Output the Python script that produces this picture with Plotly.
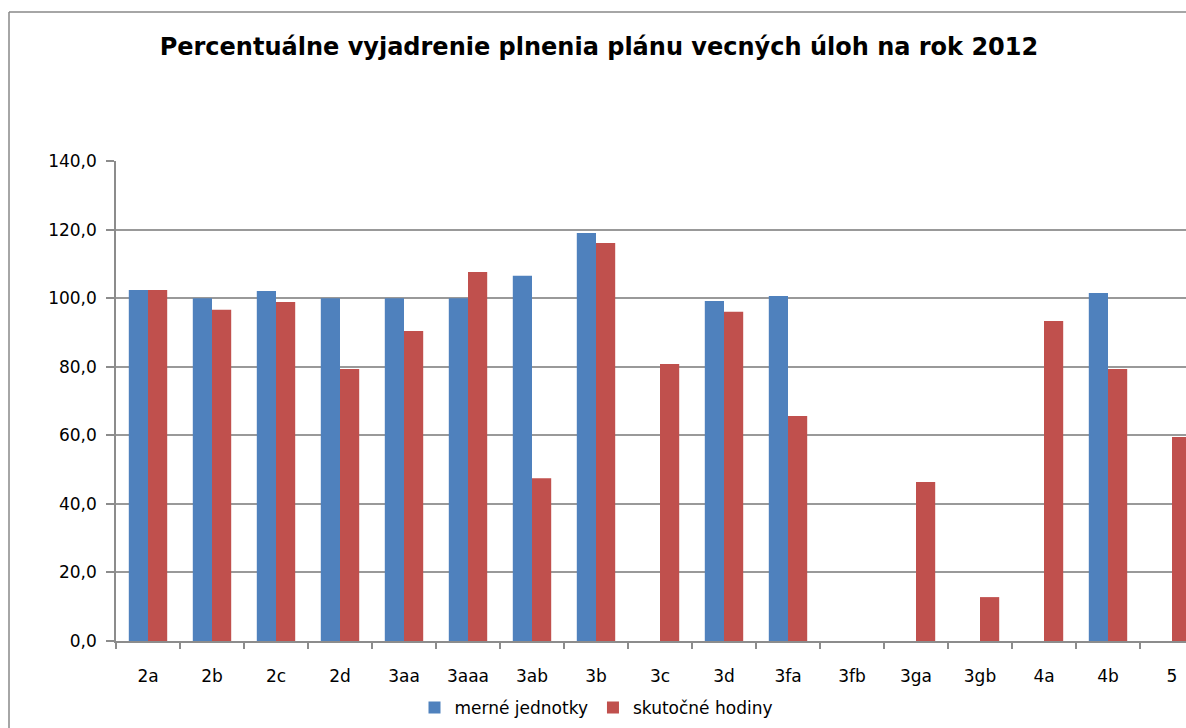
import plotly.graph_objects as go

categories = ["2a", "2b", "2c", "2d", "3aa", "3aaa", "3ab", "3b", "3c", "3d",
              "3fa", "3fb", "3ga", "3gb", "4a", "4b", "5"]
merne_jednotky = [102.4, 100.0, 102.1, 100.0, 100.0, 100.0, 106.5, 119.0, None, 99.2,
                  100.6, None, None, None, None, 101.5, None]
skutocne_hodiny = [102.4, 96.6, 98.9, 79.3, 90.4, 107.6, 47.5, 116.1, 80.8, 96.0,
                   65.6, None, 46.4, 12.8, 93.3, 79.3, 59.5]
y_ticks = [0, 20, 40, 60, 80, 100, 120, 140]
y_tick_labels = ["0,0", "20,0", "40,0", "60,0", "80,0", "100,0", "120,0", "140,0"]

W, H = 1186, 728
L, R, T, B = 116, 0, 161, 87

fig = go.Figure()
fig.add_trace(go.Bar(x=categories, y=merne_jednotky, name="merné jednotky",
                     marker=dict(color="#4F81BD", line=dict(width=0))))
fig.add_trace(go.Bar(x=categories, y=skutocne_hodiny, name="skutočné hodiny",
                     marker=dict(color="#C0504D", line=dict(width=0))))

pw = W - L - R
ph = H - T - B
cat_px = 64.0
right_extra = (L + 17 * cat_px) - W  # chart is cropped at right

fig.update_layout(
    width=W, height=H,
    margin=dict(l=L, r=R, t=T, b=B, pad=0),
    paper_bgcolor="white", plot_bgcolor="white",
    barmode="group", bargap=0.4, bargroupgap=0,
    title=dict(text="<b>Percentuálne vyjadrenie plnenia plánu vecných úloh na rok 2012</b>",
               x=0.505, xanchor="center", y=1 - 47 / H, yanchor="middle",
               font=dict(family="DejaVu Sans, sans-serif", size=24, color="black")),
    font=dict(family="DejaVu Sans, sans-serif", color="black"),
    showlegend=True,
    legend=dict(orientation="h", x=(596 - L) / pw, xanchor="center",
                y=-(708 - 641) / ph, yanchor="middle",
                font=dict(family="DejaVu Sans, sans-serif", size=17, color="black"),
                itemwidth=30, tracegroupgap=0, bgcolor="rgba(0,0,0,0)"),
    xaxis=dict(range=[-0.5, 16.5 - right_extra / cat_px], showline=True,
               linecolor="#8c8c8c", linewidth=1.5, ticks="outside", ticklen=6,
               tickcolor="#8c8c8c", tickwidth=1.5, tickson="boundaries", showgrid=False,
               tickfont=dict(family="DejaVu Sans, sans-serif", size=17, color="black"),
               ticklabelstandoff=19, fixedrange=True),
    yaxis=dict(range=[0, 140], tickvals=y_ticks, ticktext=y_tick_labels,
               showline=True, linecolor="#8c8c8c", linewidth=1.5, ticks="outside",
               ticklen=8, tickcolor="#8c8c8c", tickwidth=1.5, showgrid=True,
               gridcolor="#999999", gridwidth=1.5, zeroline=False,
               tickfont=dict(family="DejaVu Sans, sans-serif", size=17, color="black"),
               ticklabelstandoff=6, fixedrange=True),
)

# outer chart border (left and top, the rest is cropped)
top_y = 1 + (T - 12) / ph
fig.add_shape(type="line", xref="paper", yref="paper",
              x0=(9 - L) / pw, x1=(W + 5 - L) / pw, y0=top_y, y1=top_y,
              line=dict(color="#888888", width=1.5))
fig.add_shape(type="line", xref="paper", yref="paper",
              x0=(9 - L) / pw, x1=(9 - L) / pw, y0=top_y, y1=-(B + 5) / ph,
              line=dict(color="#888888", width=1.5))

fig.write_html("out.html", config={"displayModeBar": False},
               post_script="document.body.style.margin='0';document.body.style.overflow='hidden';")
